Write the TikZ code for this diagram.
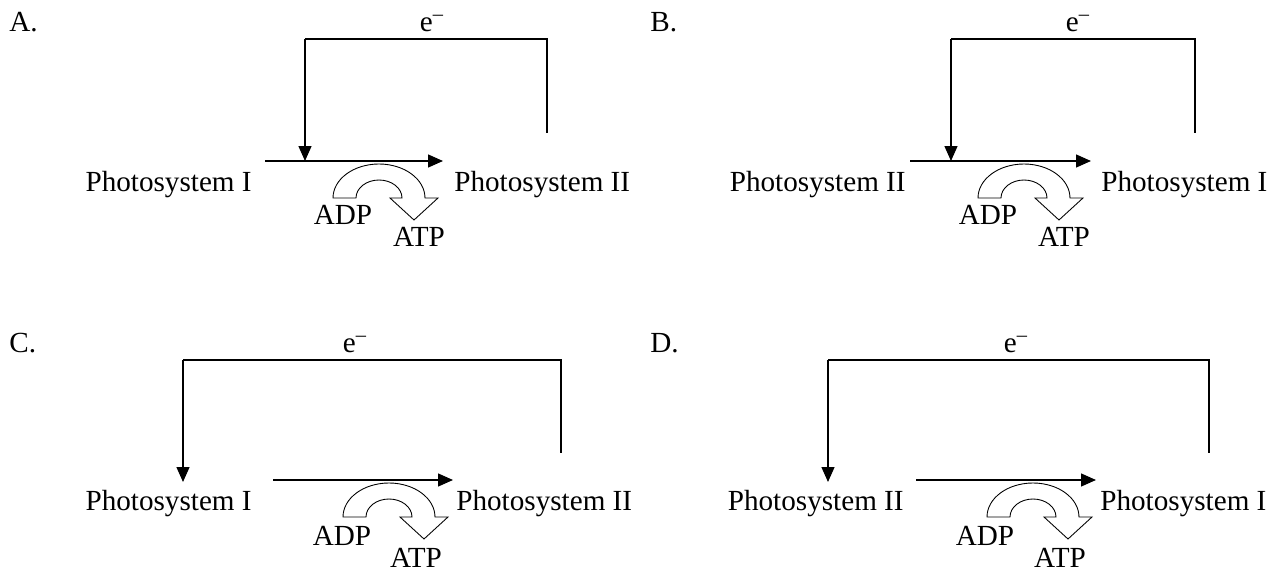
\documentclass[tikz,border=0pt]{standalone}
\usepackage{fontspec}
\setmainfont{Liberation Serif}
\usetikzlibrary{arrows.meta,positioning}

\tikzset{
  lbl/.style={font=\fontsize{16.6}{19}\selectfont, inner sep=0pt},
  wire/.style={line width=0.8pt},
  flow/.style={wire, -{Triangle[length=0.3cm,width=0.26cm]}},
  atpturn/.pic={
    \draw[line width=0.5pt] (-46,0) arc[start angle=180, end angle=0, x radius=0.92cm, y radius=0.68cm]
      -- (59,0) -- (35,-22) -- (11,0) -- (23,0)
      arc[start angle=0, end angle=180, x radius=0.46cm, y radius=0.36cm] -- cycle;
  }
}

\begin{document}
\begin{tikzpicture}[x=0.02cm, y=0.02cm]
    \useasboundingbox (0,0) rectangle (1276,572);

    % A
    \node[lbl, anchor=base west] (labA) at (9,540) {A.};
    \node[lbl, anchor=base] (eA) at (432,540) {e\textsuperscript{\textendash}};
    \coordinate (aTL) at (305,533);
    \coordinate (aTR) at (547,533);
    \coordinate (aR) at (547,439);
    \coordinate (aIn) at (265,411);
    \coordinate (aHit) at (305,411);
    \coordinate (aOut) at (443,411);
    \node[lbl, anchor=base east] (psA1) at (252,380) {Photosystem I};
    \node[lbl, anchor=base west] (psA2) at (454,380) {Photosystem II};
    \draw[wire] (aR) -- (aTR) -- (aTL);
    \draw[flow] (aTL) -- (aHit);
    \draw[flow] (aIn) -- (aOut);
    \pic (turnA) at (379,374) {atpturn};
    \node[lbl, anchor=base] (adpA) at (343,347) {ADP};
    \node[lbl, anchor=base] (atpA) at (419,325) {ATP};

    % B
    \node[lbl, anchor=base west] (labB) at (650,540) {B.};
    \node[lbl, anchor=base] (eB) at (1078,540) {e\textsuperscript{\textendash}};
    \coordinate (bTL) at (951,533);
    \coordinate (bTR) at (1195,533);
    \coordinate (bR) at (1195,439);
    \coordinate (bIn) at (910,411);
    \coordinate (bHit) at (951,411);
    \coordinate (bOut) at (1091,411);
    \node[lbl, anchor=base east] (psB2) at (906,380) {Photosystem II};
    \node[lbl, anchor=base west] (psB1) at (1101,380) {Photosystem I};
    \draw[wire] (bR) -- (bTR) -- (bTL);
    \draw[flow] (bTL) -- (bHit);
    \draw[flow] (bIn) -- (bOut);
    \pic (turnB) at (1024,374) {atpturn};
    \node[lbl, anchor=base] (adpB) at (988,347) {ADP};
    \node[lbl, anchor=base] (atpB) at (1064,325) {ATP};

    % C
    \node[lbl, anchor=base west] (labC) at (9,219) {C.};
    \node[lbl, anchor=base] (eC) at (355,219) {e\textsuperscript{\textendash}};
    \coordinate (cTL) at (183,212);
    \coordinate (cTR) at (561,212);
    \coordinate (cR) at (561,119);
    \coordinate (cHit) at (183,90);
    \coordinate (cIn) at (273,92);
    \coordinate (cOut) at (453,92);
    \node[lbl, anchor=base east] (psC1) at (252,61) {Photosystem I};
    \node[lbl, anchor=base west] (psC2) at (456,61) {Photosystem II};
    \draw[wire] (cR) -- (cTR) -- (cTL);
    \draw[flow] (cTL) -- (cHit);
    \draw[flow] (cIn) -- (cOut);
    \pic (turnC) at (389,55) {atpturn};
    \node[lbl, anchor=base] (adpC) at (342,27) {ADP};
    \node[lbl, anchor=base] (atpC) at (416,5) {ATP};

    % D
    \node[lbl, anchor=base west] (labD) at (650,219) {D.};
    \node[lbl, anchor=base] (eD) at (1016,219) {e\textsuperscript{\textendash}};
    \coordinate (dTL) at (828,212);
    \coordinate (dTR) at (1209,212);
    \coordinate (dR) at (1209,119);
    \coordinate (dHit) at (828,90);
    \coordinate (dIn) at (916,92);
    \coordinate (dOut) at (1096,92);
    \node[lbl, anchor=base east] (psD2) at (904,61) {Photosystem II};
    \node[lbl, anchor=base west] (psD1) at (1100,61) {Photosystem I};
    \draw[wire] (dR) -- (dTR) -- (dTL);
    \draw[flow] (dTL) -- (dHit);
    \draw[flow] (dIn) -- (dOut);
    \pic (turnD) at (1033,55) {atpturn};
    \node[lbl, anchor=base] (adpD) at (985,27) {ADP};
    \node[lbl, anchor=base] (atpD) at (1060,5) {ATP};
\end{tikzpicture}
\end{document}
